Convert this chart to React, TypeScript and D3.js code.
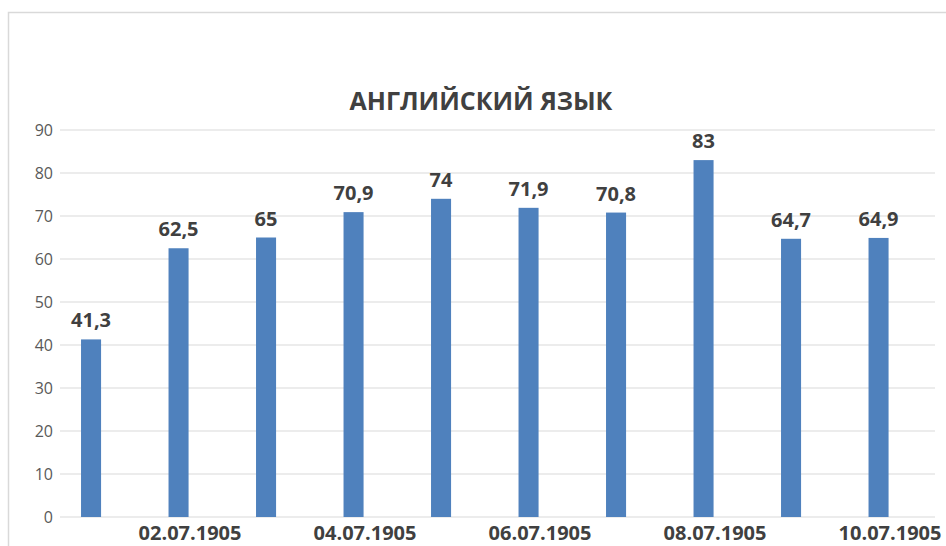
import React from "react";
import * as d3 from "d3";

const categories = ["01.07.1905","02.07.1905","03.07.1905","04.07.1905","05.07.1905","06.07.1905","07.07.1905","08.07.1905","09.07.1905","10.07.1905"];
const values = [41.3, 62.5, 65, 70.9, 74, 71.9, 70.8, 83, 64.7, 64.9];
const valueLabels = ["41,3","62,5","65","70,9","74","71,9","70,8","83","64,7","64,9"];
const yTicks = [0,10,20,30,40,50,60,70,80,90];
const shownLabels = ["02.07.1905","04.07.1905","06.07.1905","08.07.1905","10.07.1905"];
const title = "АНГЛИЙСКИЙ ЯЗЫК";

export default function App() {
  const W = 946, H = 546;
  const gridX0 = 60, gridX1 = 935;
  const y = d3.scaleLinear().domain([0, 90]).range([517, 130]);
  const x = d3.scaleBand().domain(categories).range([47.3, 922.3]).paddingInner(0.771).paddingOuter(0.3855);
  const font = "'Open Sans', sans-serif";
  return (
    <div style={{ position: "fixed", left: 0, top: 0 }}>
      <svg width={W} height={H} style={{ display: "block", background: "#fff" }}>
        <rect x={8.5} y={12.5} width={W} height={H} fill="#fff" stroke="#d9d9d9" strokeWidth={1.5} />
        <text x={481} y={110} textAnchor="middle" fontFamily={font} fontWeight="bold" fontSize={25} fill="#404040">{title}</text>
        {yTicks.map(t => (
          <g key={t}>
            <line x1={gridX0} x2={gridX1} y1={y(t)} y2={y(t)} stroke="#d9d9d9" strokeWidth={1.2} />
            <text x={53} y={y(t)} dy="0.36em" textAnchor="end" fontFamily={font} fontSize={16} fill="#595959">{t}</text>
          </g>
        ))}
        {categories.map((c, i) => (
          <g key={c}>
            <rect x={x(c)} y={y(values[i])} width={x.bandwidth()} height={y(0) - y(values[i])} fill="#4f81bd" />
            <text x={x(c)! + x.bandwidth() / 2} y={y(values[i]) - 12} textAnchor="middle" fontFamily={font} fontWeight="bold" fontSize={20} fill="#404040">{valueLabels[i]}</text>
          </g>
        ))}
        {shownLabels.map(c => (
          <text key={c} x={x(c)! + x.bandwidth() / 2 + 11.5} y={540} textAnchor="middle" fontFamily={font} fontWeight="bold" fontSize={20} fill="#404040">{c}</text>
        ))}
      </svg>
    </div>
  );
}
